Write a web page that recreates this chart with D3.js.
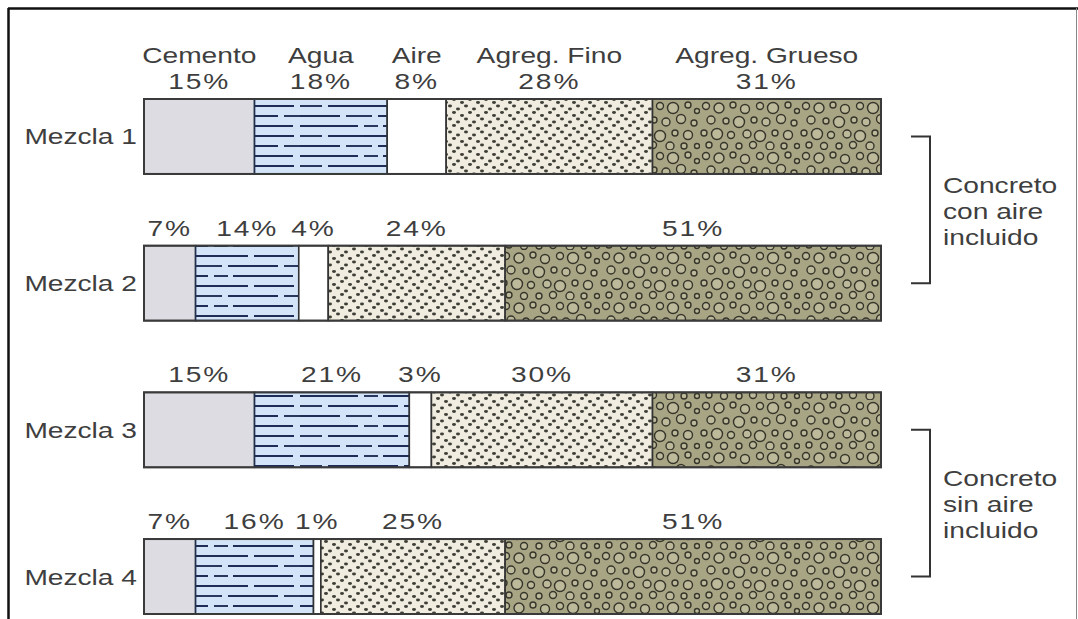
<!DOCTYPE html>
<html lang="es">
<head>
<meta charset="utf-8">
<script src="https://cdn.jsdelivr.net/npm/d3@7"></script>
<style>
  html, body { margin: 0; padding: 0; background: #fff; }
  svg { display: block; }
  text { font-family: "Liberation Sans", Arial, Helvetica, sans-serif; fill: #3e3e3e; }
</style>
</head>
<body>
<svg id="chart" width="1078" height="619"></svg>
<script>
// Composición de mezclas de concreto (% del volumen)
const mezclas = ["Mezcla 1", "Mezcla 2", "Mezcla 3", "Mezcla 4"];
const componentes = ["Cemento", "Agua", "Aire", "Agreg. Fino", "Agreg. Grueso"];
const cemento = [15, 7, 15, 7];
const agua    = [18, 14, 21, 16];
const aire    = [8, 4, 3, 1];
const fino    = [28, 24, 30, 25];
const grueso  = [31, 51, 31, 51];
const grupos = [
  { lineas: ["Concreto", "con aire", "incluido"], desde: "Mezcla 1", hasta: "Mezcla 2" },
  { lineas: ["Concreto", "sin aire", "incluido"], desde: "Mezcla 3", hasta: "Mezcla 4" }
];

const keys = ["cemento", "agua", "aire", "fino", "grueso"];
const tabla = mezclas.map((m, i) => ({
  mezcla: m, cemento: cemento[i], agua: agua[i], aire: aire[i], fino: fino[i], grueso: grueso[i]
}));

const svg = d3.select("#chart");
const SX = 1.28;        // ensanche horizontal del texto
const FONT = 22;

const x = d3.scaleLinear().domain([0, 100]).range([144, 881]);
const y = d3.scaleBand().domain(mezclas).range([99, 614]).paddingInner(0.489).paddingOuter(0);

// ---- texturas ----
const defs = svg.append("defs");

// agua: fondo celeste con trazos horizontales discontinuos
const pAgua = defs.append("pattern").attr("id", "pat-agua")
  .attr("patternUnits", "userSpaceOnUse").attr("width", 150).attr("height", 30)
  .attr("y", 2);
pAgua.append("rect").attr("width", 150).attr("height", 30).attr("fill", "#d3e4f8");
const trazosAgua = [
  [0, 4, 58], [64, 4, 14], [83, 4, 60],
  [0, 14, 22], [28, 14, 70], [104, 14, 40],
  [0, 24, 40], [46, 24, 26], [78, 24, 50], [134, 24, 16]
];
trazosAgua.forEach(([tx, ty, tw]) => {
  pAgua.append("line").attr("x1", tx).attr("x2", tx + tw).attr("y1", ty).attr("y2", ty)
    .attr("stroke", "#1f2c55").attr("stroke-width", 1.9);
});

// agregado fino: fondo beige con puntos
const pFino = defs.append("pattern").attr("id", "pat-fino")
  .attr("patternUnits", "userSpaceOnUse").attr("width", 16).attr("height", 13);
pFino.append("rect").attr("width", 16).attr("height", 13).attr("fill", "#f0ede0");
[[2, 2], [10, 5], [6, 8.5], [14, 11.5]].forEach(([cx, cy]) => {
  pFino.append("ellipse").attr("cx", cx).attr("cy", cy).attr("rx", 2).attr("ry", 1.4)
    .attr("fill", "#3f3f38");
});

// agregado grueso: fondo caqui con gravas circulares de tamaño variado
const pGrueso = defs.append("pattern").attr("id", "pat-grueso")
  .attr("patternUnits", "userSpaceOnUse").attr("width", 100).attr("height", 50);
pGrueso.append("rect").attr("width", 100).attr("height", 50).attr("fill", "#a8a585");
const gravas = [
  [6, 6, 3.5], [19, 8, 5], [33, 5, 3], [45, 9, 4.5], [60, 6, 3.5], [73, 8, 5.5], [88, 5, 3], [97, 11, 2.5],
  [11, 20, 4], [26, 21, 3], [39, 22, 5.5], [54, 20, 3], [66, 22, 4], [81, 19, 4.5], [94, 23, 3],
  [4, 33, 3], [17, 34, 5.5], [31, 35, 3.5], [47, 34, 4], [60, 36, 5.5], [75, 33, 3], [88, 35, 4.5],
  [9, 45, 3], [24, 46, 3.5], [39, 46, 3], [53, 45, 3.5], [70, 46, 4], [84, 46, 3], [97, 46, 2.5]
];
gravas.forEach(([cx, cy, r]) => {
  pGrueso.append("circle").attr("cx", cx).attr("cy", cy).attr("r", r)
    .attr("fill", "#bdba9b").attr("stroke", "#36352a").attr("stroke-width", 1.4);
});

const rellenos = {
  cemento: "#dcdce2",
  agua: "url(#pat-agua)",
  aire: "#ffffff",
  fino: "url(#pat-fino)",
  grueso: "url(#pat-grueso)"
};

// ---- marco ----
svg.append("line").attr("x1", 8).attr("x2", 1078).attr("y1", 8.5).attr("y2", 8.5)
  .attr("stroke", "#111").attr("stroke-width", 2.5);
svg.append("line").attr("x1", 8.5).attr("x2", 8.5).attr("y1", 8).attr("y2", 619)
  .attr("stroke", "#111").attr("stroke-width", 2.5);
svg.append("line").attr("x1", 1076.5).attr("x2", 1076.5).attr("y1", 8).attr("y2", 619)
  .attr("stroke", "#888").attr("stroke-width", 1);

function texto(sel, tx, ty, t, anchor, spacing) {
  return sel.append("text")
    .attr("transform", `translate(${tx},${ty}) scale(${SX},1)`)
    .attr("text-anchor", anchor || "middle")
    .attr("font-size", FONT)
    .attr("letter-spacing", spacing || 0)
    .text(t);
}

// ---- barras apiladas ----
const series = d3.stack().keys(keys)(tabla);

const capas = svg.append("g").selectAll("g.capa")
  .data(series).join("g").attr("class", "capa");

capas.selectAll("rect")
  .data(s => s.map(d => ({ key: s.key, d })))
  .join("rect")
  .attr("x", p => x(p.d[0]))
  .attr("width", p => x(p.d[1]) - x(p.d[0]))
  .attr("y", p => y(p.d.data.mezcla))
  .attr("height", y.bandwidth())
  .attr("fill", p => rellenos[p.key])
  .attr("stroke", p => p.key === "agua" ? "#22304f" : "#333")
  .attr("stroke-width", 1.6);

// contorno exterior
svg.append("g").selectAll("rect")
  .data(mezclas).join("rect")
  .attr("x", x(0)).attr("width", x(100) - x(0))
  .attr("y", m => y(m)).attr("height", y.bandwidth())
  .attr("fill", "none").attr("stroke", "#3a3a3a").attr("stroke-width", 2);

// porcentajes sobre cada segmento
const etiquetas = svg.append("g");
series.forEach(s => {
  s.forEach(d => {
    const v = d[1] - d[0];
    texto(etiquetas, (x(d[0]) + x(d[1])) / 2, y(d.data.mezcla) - 10, v + "%", "middle", 1.5);
  });
});

// nombres de los componentes sobre la primera mezcla
series.forEach((s, i) => {
  const d = s[0];
  texto(etiquetas, (x(d[0]) + x(d[1])) / 2, y(mezclas[0]) - 36, componentes[i], "middle");
});

// nombres de las mezclas
mezclas.forEach(m => {
  texto(etiquetas, 137, y(m) + y.bandwidth() / 2 + 8, m, "end");
});

// ---- llaves de agrupación ----
const llaves = svg.append("g");
grupos.forEach(gr => {
  const y0 = y(gr.desde) + y.bandwidth() / 2;
  const y1 = y(gr.hasta) + y.bandwidth() / 2;
  llaves.append("path")
    .attr("d", `M911,${y0}H930V${y1}H911`)
    .attr("fill", "none").attr("stroke", "#333").attr("stroke-width", 2);
  const mid = (y0 + y1) / 2;
  gr.lineas.forEach((l, k) => {
    texto(llaves, 943, mid - 17 + k * 26, l, "start");
  });
});
</script>
</body>
</html>
